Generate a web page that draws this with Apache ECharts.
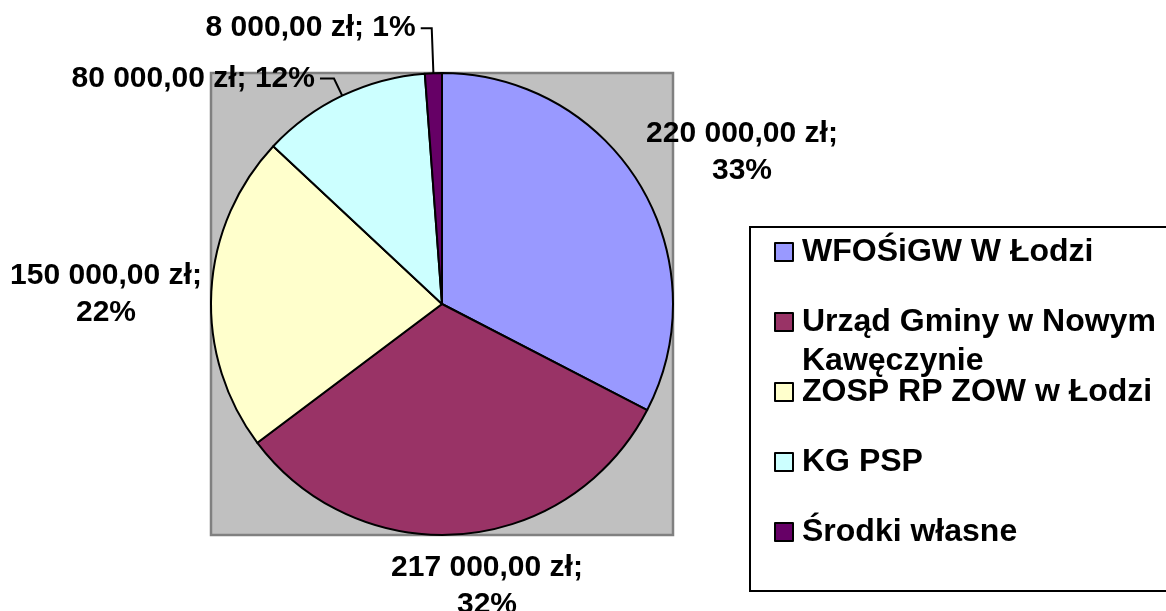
<!DOCTYPE html>
<html>
<head>
<meta charset="utf-8">
<title>Źródła finansowania</title>
<script src="https://cdn.jsdelivr.net/npm/echarts@6/dist/echarts.min.js"></script>
<style>
    html, body { margin: 0; padding: 0; background: #ffffff; }
    #chart { width: 1166px; height: 611px; }
</style>
</head>
<body>
<div id="chart"></div>
<script>
const categories = ["WFOŚiGW W Łodzi", "Urząd Gminy w Nowym Kawęczynie", "ZOSP RP ZOW w Łodzi", "KG PSP", "Środki własne"];
const amounts = [220000, 217000, 150000, 80000, 8000];
const sliceColors = ["#9999FF", "#993366", "#FFFFCC", "#CCFFFF", "#660066"];

// the three big slices get free-standing labels, the two small ones sit on leader lines
const freeLabelPos = [[742, 152], [487, 586], [106, 294], null, null];
const leaderLen = [null, null, null, [19, 14], [45, 11]];

const FONT = "'Liberation Sans', Arial, sans-serif";

function zl(v) {
    const parts = v.toFixed(2).split(".");
    return parts[0].replace(/\B(?=(\d{3})+(?!\d))/g, " ") + "," + parts[1] + " zł";
}

// long legend entry wraps; the wrapped part hangs below without pushing the marker down
function legendText(name) {
    return name.replace(" Kawęczynie", "\n{hang|Kawęczynie}");
}

const legendFont = { fontFamily: FONT, fontSize: 32, fontWeight: "bold", color: "#000000" };

// legend split in two so the hanging second line doesn't push the rest down
function legendBlock(top, names) {
    return {
        orient: "vertical",
        left: 774,
        top: top,
        padding: 0,
        itemGap: 33,
        itemWidth: 18,
        itemHeight: 18,
        icon: "rect",
        selectedMode: false,
        itemStyle: { borderColor: "#000000", borderWidth: 2 },
        textStyle: Object.assign({}, legendFont, {
            lineHeight: 37,
            padding: [0, 0, 0, 4],
            rich: {
                hang: Object.assign({}, legendFont, { lineHeight: 0, verticalAlign: "top", padding: [5, 0, 0, 0] }),
            },
        }),
        formatter: legendText,
        data: names,
    };
}

const chart = echarts.init(document.getElementById("chart"));

const option = {
    backgroundColor: "#ffffff",
    animation: false,
    graphic: [
        {
            type: "rect",
            z: 0,
            shape: { x: 211, y: 73, width: 462, height: 462 },
            style: { fill: "#C0C0C0", stroke: "#808080", lineWidth: 2.5 },
        },
        {
            type: "rect",
            z: 0,
            shape: { x: 750, y: 227, width: 430, height: 364 },
            style: { fill: "none", stroke: "#000000", lineWidth: 2 },
        },
    ],
    legend: [
        legendBlock(233.5, categories.slice(0, 2)),
        legendBlock(373.5, categories.slice(2)),
    ],
    series: [
        {
            name: "Finansowanie",
            type: "pie",
            center: [442, 304],
            radius: 231,
            startAngle: 90,
            clockwise: true,
            avoidLabelOverlap: false,
            emphasis: { disabled: true },
            itemStyle: { borderColor: "#000000", borderWidth: 2 },
            label: {
                fontFamily: FONT,
                fontSize: 30,
                fontWeight: "bold",
                color: "#000000",
                lineHeight: 37,
                formatter: (p) => {
                    const sep = freeLabelPos[p.dataIndex] ? ";\n" : "; ";
                    return zl(p.value) + sep + Math.round(p.percent) + "%";
                },
            },
            labelLine: {
                lineStyle: { color: "#000000", width: 2 },
                smooth: false,
            },
            labelLayout: (params) => {
                const pos = freeLabelPos[params.dataIndex];
                if (!pos) return {};
                return { x: pos[0], y: pos[1], align: "center", verticalAlign: "middle" };
            },
            data: categories.map((name, i) => ({
                name,
                value: amounts[i],
                itemStyle: { color: sliceColors[i] },
                label: { position: freeLabelPos[i] ? "inside" : "outside", distanceToLabelLine: 5 },
                labelLine: leaderLen[i]
                    ? { show: true, length: leaderLen[i][0], length2: leaderLen[i][1] }
                    : { show: false },
            })),
        },
    ],
};

chart.setOption(option);

window.addEventListener("resize", () => chart.resize());
</script>
</body>
</html>
